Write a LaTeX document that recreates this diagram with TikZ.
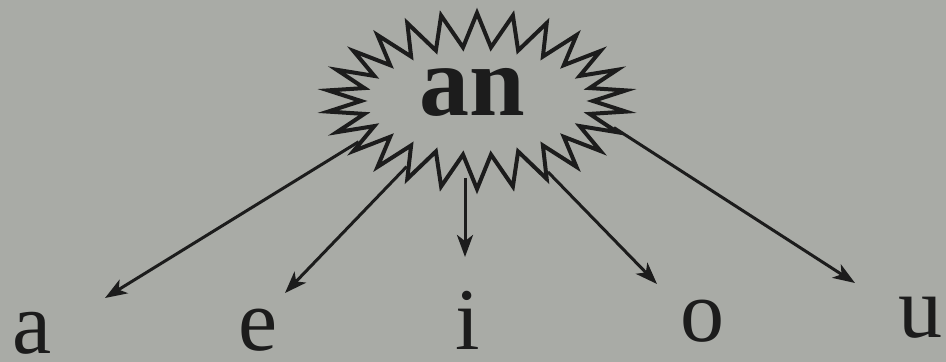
\documentclass[tikz,border=0pt]{standalone}
\usepackage{fontspec}
\setmainfont{Liberation Serif}
\usepackage{xcolor}
\usetikzlibrary{arrows.meta,shapes.symbols}
\definecolor{paper}{HTML}{A9ABA6}
\definecolor{ink}{HTML}{1C1C1C}
\tikzset {
    burst/.style={draw=ink, line width=2pt, starburst, random starburst=0,
        starburst points=26, starburst point height=17pt,
        minimum width=150pt, minimum height=88pt, inner sep=0pt},
    syllable/.style={text=ink, font=\bfseries\fontsize{50}{50}\selectfont,
        inner sep=0pt},
    vowel/.style={text=ink, font=\fontsize{44}{44}\selectfont,
        anchor=base, inner sep=0pt},
    link/.style={draw=ink, line width=1.5pt,
        -{Stealth[length=11pt, width=8pt, inset=3pt]}},
}

\begin{document}
\begin{tikzpicture}[x=0.5pt, y=-0.5pt]
    \fill[paper] (0,0) rectangle (946,362);
    \useasboundingbox (0,0) rectangle (946,362);

    \node[burst] at (477,101) (burst) {};
    \node[syllable] at (472,92) (an) {an};

    \node[vowel] at ( 32,354) (va) {a};
    \node[vowel] at (258,351) (ve) {e};
    \node[vowel] at (468,350) (vi) {i};
    \node[vowel] at (702,342) (vo) {o};
    \node[vowel] at (920,338) (vu) {u};

    % arrow tips above the vowels
    \coordinate (tipa) at (105,298);
    \coordinate (tipe) at (285,293);
    \coordinate (tipi) at (465,257);
    \coordinate (tipo) at (657,284);
    \coordinate (tipu) at (855,283);

    \draw[link] (burst.199) -- (tipa);
    \draw[link] (burst.223) -- (tipe);
    \draw[link] (tipi |- burst.265) -- (tipi);
    \draw[link] (burst.315) -- (tipo);
    \draw[link] (burst.349) -- (tipu);
\end{tikzpicture}
\end{document}
